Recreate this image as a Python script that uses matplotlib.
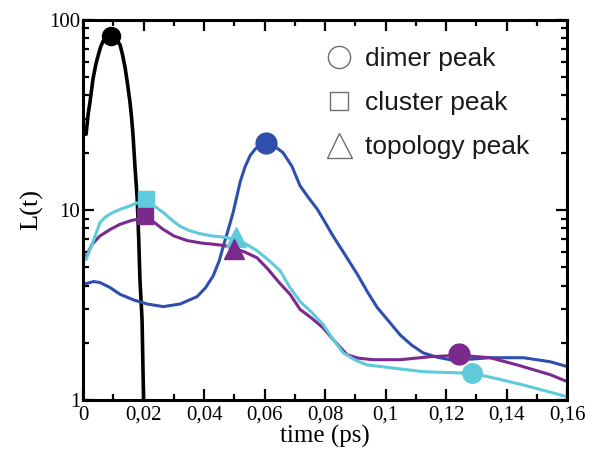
import numpy as np
import matplotlib
matplotlib.use('Agg')
import matplotlib.pyplot as plt
from matplotlib.lines import Line2D
from matplotlib.ticker import FixedLocator, MultipleLocator, LogLocator, NullFormatter

# --- data (time in ps, L(t)) ---
black_t = [0.0010, 0.0017, 0.0023, 0.0033, 0.0042, 0.0050, 0.0058, 0.0066, 0.0080,
           0.0093, 0.0106, 0.0122, 0.0130, 0.0139, 0.0147, 0.0155, 0.0160, 0.0165,
           0.0172, 0.0179, 0.0184, 0.0188, 0.0195, 0.0200, 0.0202]
black_L = [25, 32, 37, 49, 58, 65, 72, 77, 81.5, 83, 80, 74, 66, 56, 46, 37, 31,
           25, 16.5, 11.4, 7.0, 4.3, 2.65, 1.0, 0.85]

blue_t = [0.0010, 0.0035, 0.0056, 0.0090, 0.0122, 0.0170, 0.0212, 0.0265, 0.0321,
          0.0377, 0.0405, 0.0430, 0.0450, 0.0463, 0.0480, 0.0496, 0.0519, 0.0535,
          0.0552, 0.0570, 0.0590, 0.0608, 0.0630, 0.0661, 0.0690, 0.0717, 0.0745,
          0.0774, 0.0800, 0.0826, 0.0866, 0.0906, 0.0940, 0.0972, 0.1010, 0.1048,
          0.1085, 0.1124, 0.1170, 0.1213, 0.1280, 0.1345, 0.1455, 0.1544, 0.1600]
blue_L = [4.1, 4.2, 4.15, 3.9, 3.6, 3.35, 3.2, 3.1, 3.2, 3.5, 3.9, 4.5, 5.4, 6.4,
          7.9, 9.7, 14.0, 16.8, 19.3, 21.0, 22.1, 22.4, 21.8, 20.0, 17.0, 13.4,
          11.6, 10.1, 8.6, 7.3, 5.8, 4.6, 3.7, 3.07, 2.6, 2.2, 1.95, 1.77, 1.68,
          1.63, 1.64, 1.67, 1.67, 1.59, 1.5]

cyan_t = [0.0010, 0.0033, 0.0056, 0.0075, 0.0099, 0.0125, 0.0155, 0.0180, 0.0205,
          0.0235, 0.0265, 0.0295, 0.0321, 0.0350, 0.0387, 0.0425, 0.0463, 0.0502,
          0.0540, 0.0575, 0.0610, 0.0651, 0.0684, 0.0717, 0.0755, 0.0793, 0.0825,
          0.0860, 0.0900, 0.0939, 0.1015, 0.1124, 0.1236, 0.1286, 0.1345, 0.1455,
          0.1544, 0.1600]
cyan_L = [5.5, 6.8, 8.6, 9.2, 9.7, 10.1, 10.5, 10.9, 11.0, 10.5, 9.7, 8.8, 8.2,
          7.8, 7.5, 7.3, 7.2, 7.0, 6.6, 6.1, 5.5, 4.8, 3.9, 3.3, 2.9, 2.5, 2.1,
          1.77, 1.62, 1.53, 1.48, 1.41, 1.39, 1.38, 1.32, 1.2, 1.1, 1.04]

purple_t = [0.0010, 0.0030, 0.0056, 0.0090, 0.0122, 0.0160, 0.0205, 0.0235, 0.0265,
            0.0300, 0.0344, 0.0390, 0.0430, 0.0465, 0.0496, 0.0535, 0.0575, 0.0610,
            0.0651, 0.0684, 0.0717, 0.0755, 0.0793, 0.0830, 0.0873, 0.0910, 0.0959,
            0.1048, 0.1147, 0.1243, 0.1345, 0.1435, 0.1544, 0.1600]
purple_L = [5.7, 6.6, 7.3, 7.9, 8.4, 8.8, 9.1, 8.6, 7.9, 7.3, 6.9, 6.7, 6.6, 6.5,
            6.3, 6.0, 5.6, 4.9, 4.1, 3.6, 3.0, 2.7, 2.4, 2.05, 1.73, 1.66, 1.63,
            1.63, 1.69, 1.72, 1.67, 1.53, 1.36, 1.25]

# peak markers: (t, L)
black_dimer = (0.0093, 82)
blue_dimer = (0.0605, 22.6)
cyan_cluster = (0.0208, 11.4)
cyan_topo = (0.0506, 7.2)
cyan_dimer = (0.1286, 1.39)
purple_cluster = (0.0205, 9.3)
purple_topo = (0.0499, 6.2)
purple_dimer = (0.1243, 1.75)

xticks = [0, 0.02, 0.04, 0.06, 0.08, 0.10, 0.12, 0.14, 0.16]
xtick_labels = ['0', '0,02', '0,04', '0,06', '0,08', '0,1', '0,12', '0,14', '0,16']
yticks = [1, 10, 100]
ytick_labels = ['1', '10', '100']
legend_labels = ['dimer peak', 'cluster peak', 'topology peak']

BLUE = '#2e4fae'
CYAN = '#5ecadb'
PURPLE = '#7a2a8c'

fig = plt.figure(figsize=(5.89, 4.5), dpi=100)
ax = fig.add_axes([0.141, 0.111, 0.822, 0.845])

ax.plot(black_t, black_L, color='black', lw=2.6, solid_capstyle='round')
ax.plot(blue_t, blue_L, color=BLUE, lw=2.2)
ax.plot(purple_t, purple_L, color=PURPLE, lw=2.2)
ax.plot(cyan_t, cyan_L, color=CYAN, lw=2.2)

ax.plot(*black_dimer, 'o', color='black', ms=13)
ax.plot(*blue_dimer, 'o', color=BLUE, ms=15)
ax.plot(*purple_dimer, 'o', color=PURPLE, ms=15)
ax.plot(*cyan_dimer, 'o', color=CYAN, ms=14)
ax.plot(*cyan_cluster, 's', color=CYAN, ms=12)
ax.plot(*purple_cluster, 's', color=PURPLE, ms=12)
ax.plot(*cyan_topo, '^', color=CYAN, ms=14)
ax.plot(*purple_topo, '^', color=PURPLE, ms=14)

ax.set_yscale('log')
ax.set_xlim(0, 0.16)
ax.set_ylim(1, 100)

ax.xaxis.set_major_locator(FixedLocator(xticks))
ax.set_xticklabels(xtick_labels)
ax.xaxis.set_minor_locator(MultipleLocator(0.01))
ax.yaxis.set_major_locator(FixedLocator(yticks))
ax.set_yticklabels(ytick_labels)
ax.yaxis.set_minor_locator(LogLocator(base=10, subs=np.arange(2, 10)))
ax.yaxis.set_minor_formatter(NullFormatter())

serif = ['Liberation Serif', 'DejaVu Serif']
for lab in ax.get_xticklabels() + ax.get_yticklabels():
    lab.set_family(serif)
    lab.set_fontsize(15)

ax.tick_params(which='both', direction='in', top=True, right=True, width=1.6, colors='black')
ax.tick_params(which='major', length=8, pad=4)
ax.tick_params(which='minor', length=4.5)
ax.tick_params(axis='y', pad=2)
for s in ax.spines.values():
    s.set_linewidth(2.2)

ax.set_xlabel('time (ps)', family=serif, fontsize=18, labelpad=0)
ax.set_ylabel('L(t)', family=serif, fontsize=19, labelpad=4)

handles = [
    Line2D([], [], ls='none', marker='o', ms=16, mfc='none', mec='#6e6e6e', mew=1.0),
    Line2D([], [], ls='none', marker='s', ms=13, mfc='none', mec='#6e6e6e', mew=1.0),
    Line2D([], [], ls='none', marker='^', ms=18, mfc='none', mec='#6e6e6e', mew=1.0),
]
leg = ax.legend(handles, legend_labels, loc='upper left', bbox_to_anchor=(0.452, 0.99),
                frameon=False, handlelength=1.0, handletextpad=0.5, labelspacing=0.75,
                prop={'family': ['Liberation Sans', 'DejaVu Sans'], 'size': 19})
for t in leg.get_texts():
    t.set_color('#1a1a1a')

fig.savefig('out.png', dpi=100)
